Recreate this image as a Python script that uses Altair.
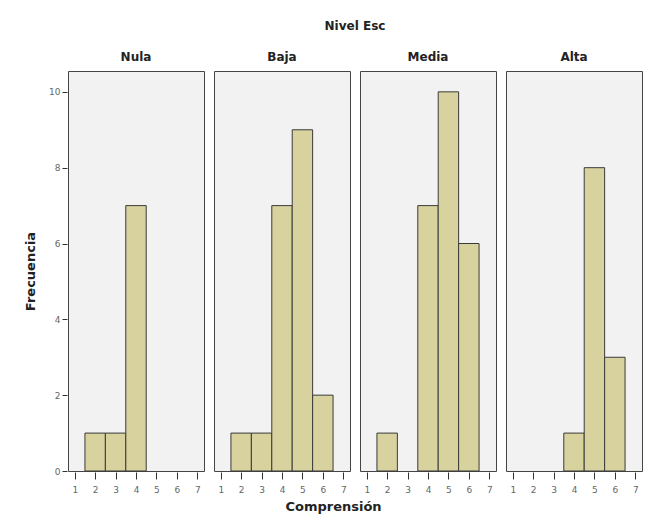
import altair as alt
import pandas as pd

levels = ["Nula", "Baja", "Media", "Alta"]
scores = [1, 2, 3, 4, 5, 6, 7]
counts_nula = [0, 1, 1, 7, 0, 0, 0]
counts_baja = [0, 1, 1, 7, 9, 2, 0]
counts_media = [0, 1, 0, 7, 10, 6, 0]
counts_alta = [0, 0, 0, 1, 8, 3, 0]

all_counts = {"Nula": counts_nula, "Baja": counts_baja, "Media": counts_media, "Alta": counts_alta}
rows = []
for lvl in levels:
    for s, c in zip(scores, all_counts[lvl]):
        if c > 0:
            rows.append({"nivel": lvl, "lo": s - 0.5, "hi": s + 0.5, "count": c, "zero": 0})
df = pd.DataFrame(rows)

FONT = "DejaVu Sans"

base = alt.Chart(df).mark_rect(fill="#d8d29e", stroke="#3a3a3a", strokeWidth=1).encode(
    x=alt.X("lo:Q", scale=alt.Scale(domain=[0.67, 7.33], nice=False, zero=False),
            axis=alt.Axis(values=scores, title=None, grid=False, domain=False,
                          tickSize=7, tickColor="#333", labelColor="#666",
                          labelFontSize=9, labelPadding=6, labelFont=FONT)),
    x2="hi:Q",
    y=alt.Y("count:Q", scale=alt.Scale(domain=[0, 10.55], nice=False),
            axis=alt.Axis(values=[0, 2, 4, 6, 8, 10], title="Frecuencia", grid=False, domain=False,
                          tickSize=5, tickColor="#333", labelColor="#666",
                          labelFontSize=9, labelPadding=2, labelFont=FONT,
                          titleFont=FONT, titleFontSize=13, titleFontWeight="bold",
                          titleColor="#222", titlePadding=11)),
    y2="zero:Q",
).properties(width=136, height=400)

chart = base.facet(
    column=alt.Column("nivel:N", sort=levels,
                      header=alt.Header(title="Nivel Esc", titleFont=FONT, titleFontSize=12,
                                        titleFontWeight="bold", titleColor="#222",
                                        titlePadding=8,
                                        labelFont=FONT, labelFontSize=12, labelFontWeight="bold",
                                        labelColor="#222", labelPadding=6)),
    spacing=8,
).properties(
    title=alt.TitleParams("Comprensión", orient="bottom", anchor="middle", font=FONT, fontSize=13,
                          fontWeight="bold", color="#222", offset=7),
    padding={"left": 16, "top": 12, "right": 0, "bottom": 0},
).configure(background="white").configure_view(
    fill="#f2f2f2", stroke="#444", strokeWidth=1
)

chart.save("out.html", embed_options={"renderer": "svg", "actions": False})
